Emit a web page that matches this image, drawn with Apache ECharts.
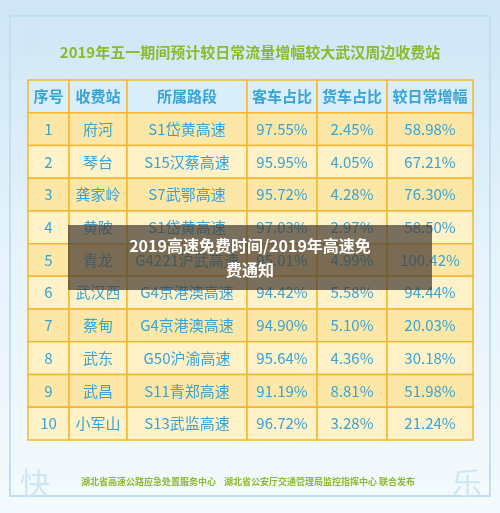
<!DOCTYPE html>
<html><head><meta charset="utf-8">
<script src="https://cdn.jsdelivr.net/npm/echarts@6/dist/echarts.min.js"></script>
<style>html,body{margin:0;padding:0}#c{width:500px;height:513px}</style>
</head><body><div id="c"></div>
<script>
var headers = ['序号','收费站','所属路段','客车占比','货车占比','较日常增幅'];
var ids = ['1','2','3','4','5','6','7','8','9','10'];
var stations = ['府河','琴台','龚家岭','黄陂','青龙','武汉西','蔡甸','武东','武昌','小军山'];
var roads = ['S1岱黄高速','S15汉蔡高速','S7武鄂高速','S1岱黄高速','G4221沪武高速','G4京港澳高速','G4京港澳高速','G50沪渝高速','S11青郑高速','S13武监高速'];
var passenger = ['97.55%','95.95%','95.72%','97.03%','95.01%','94.42%','94.90%','95.64%','91.19%','96.72%'];
var truck = ['2.45%','4.05%','4.28%','2.97%','4.99%','5.58%','5.10%','4.36%','8.81%','3.28%'];
var growth = ['58.98%','67.21%','76.30%','58.50%','100.42%','94.44%','20.03%','30.18%','51.98%','21.24%'];

var rows = [headers];
for (var i = 0; i < ids.length; i++) rows.push([ids[i], stations[i], roads[i], passenger[i], truck[i], growth[i]]);
var colEdges = [0, 41, 99, 219, 289, 359, 445];
var chart = echarts.init(document.getElementById('c'));
chart.setOption({
  backgroundColor: {type:'linear',x:0,y:0,x2:0,y2:1,colorStops:[{offset:0,color:'#cfe6f6'},{offset:0.5,color:'#e6f3fb'},{offset:1,color:'#f4fafd'}]},
  grid: {left: 28, right: 27, top: 80, bottom: 73},
  xAxis: {type: 'value', min: 0, max: 445, show: false},
  yAxis: {type: 'category', data: rows.map(function(r, i){return i;}), inverse: true, show: false},
  graphic: [
    {type:'rect', shape:{x:10,y:16,width:480,height:480}, style:{fill:'none',stroke:'#bfe0f2',lineWidth:2}, z:0},
    {type:'text', style:{x:250, y:52, text:'2019年五一期间预计较日常流量增幅较大武汉周边收费站', fill:'#8cba2c', align:'center', verticalAlign:'middle', font:'bold 15px "Noto Sans CJK SC"'}},
    {type:'text', left:18, top:28, style:{text:'五', fill:'#cfe6f4', font:'30px "Noto Sans CJK SC"'}},
    {type:'text', left:20, top:468, style:{text:'快', fill:'#cfe6f4', font:'30px "Noto Sans CJK SC"'}},
    {type:'text', left:452, top:468, style:{text:'乐', fill:'#cfe6f4', font:'30px "Noto Sans CJK SC"'}},
    {type:'text', style:{x:248, y:482, text:'湖北省高速公路应急处置服务中心    湖北省公安厅交通管理局监控指挥中心 联合发布', fill:'#8cba2c', align:'center', verticalAlign:'middle', font:'bold 9px "Noto Sans CJK SC"'}},
    {type:'rect', shape:{x:68,y:225,width:364,height:65}, style:{fill:'rgba(70,60,50,0.72)'}, z:100},
    {type:'text', z:101, style:{x:250, y:258, text:'2019高速免费时间/2019年高速免\n费通知', fill:'#ffffff', align:'center', verticalAlign:'middle', lineHeight:24, font:'bold 16px "Noto Sans CJK SC"'}}
  ],
  series: [{
    type: 'custom',
    data: rows.map(function(r, i){return [i];}),
    renderItem: function(params, api) {
      var ri = api.value(0);
      var r = rows[ri];
      var top = api.coord([0, ri]);
      var h = api.size([0, 1])[1];
      var y0 = top[1] - h / 2;
      var children = [];
      var fill = ri === 0 ? '#d9eef9' : (ri % 2 === 1 ? '#fde7a6' : '#fff2c9');
      for (var c = 0; c < 6; c++) {
        var xa = api.coord([colEdges[c], ri])[0];
        var xb = api.coord([colEdges[c+1], ri])[0];
        children.push({type:'rect', shape:{x:xa,y:y0,width:xb-xa,height:h}, style:{fill:fill, stroke:'#f2b630', lineWidth:1.5}});
        children.push({type:'text', style:{text:r[c], x:(xa+xb)/2, y:y0+h/2, align:'center', verticalAlign:'middle', fill:'#37a3d6', font:(ri===0?'bold ':'')+'15px "Noto Sans CJK SC"'}});
      }
      return {type:'group', children: children};
    }
  }]
});
</script></body></html>
